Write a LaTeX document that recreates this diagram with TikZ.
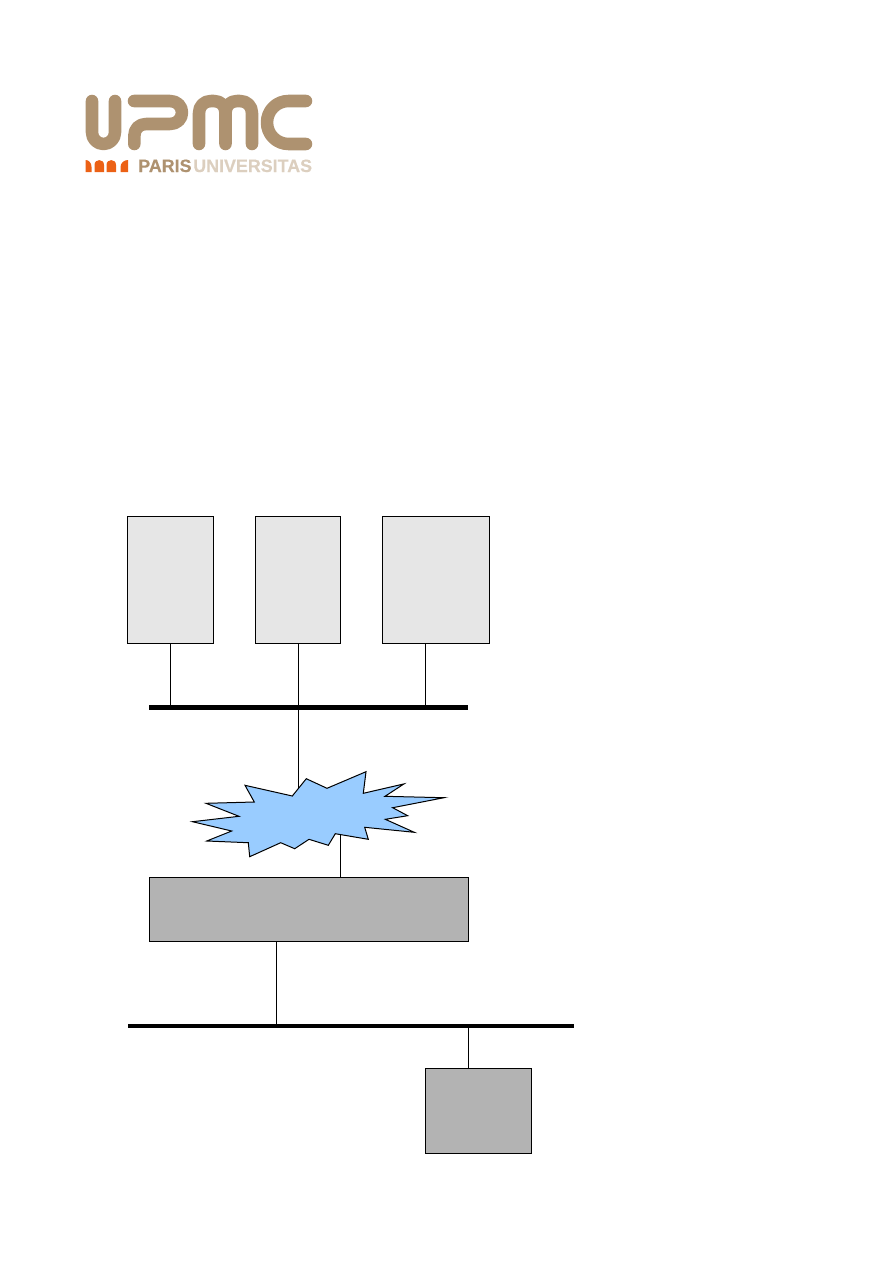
\documentclass[tikz,border=0pt]{standalone}
\usepackage{fontspec}
\setmainfont[BoldFeatures={FakeBold=0.4}]{Liberation Sans}
\definecolor{logobrown}{HTML}{AE9270}
\definecolor{logolight}{HTML}{DCCFBF}
\definecolor{logoorange}{HTML}{EC6115}
\definecolor{lightbox}{HTML}{E6E6E6}
\definecolor{darkbox}{HTML}{B3B3B3}
\definecolor{cloudblue}{HTML}{99CCFF}
\tikzset{
  px/.style={x=0.75pt,y=-0.75pt},
  boxbase/.style={draw=black,line width=0.75pt,inner sep=0pt,outer sep=0pt,anchor=north west},
  lightnode/.style={boxbase,fill=lightbox},
  darknode/.style={boxbase,fill=darkbox},
  busbar/.style={fill=black,inner sep=0pt,outer sep=0pt,anchor=north west,minimum height=#1},
  wire/.style={draw=black,line width=0.75pt},
  logostroke/.style={draw=logobrown,line width=9.4pt,line cap=round,line join=round},
  logotext/.style={font=\fontsize{13.4pt}{14pt}\selectfont\bfseries,inner sep=0pt,anchor=base west}
}
\begin{document}
\begin{tikzpicture}[px]
\useasboundingbox (0,0) rectangle (893,1263);
% logo
\draw[logostroke] (92,101) -- (92,132.5) arc[start angle=180,end angle=360,x radius=11.5,y radius=-11.5] -- (115,101);
\draw[logostroke] (134.3,144) -- (134.3,136) .. controls (134.3,129) and (139,124) .. (146,124) -- (170,124) .. controls (177,124) and (182,119) .. (182,112.5) .. controls (182,106) and (177,101) .. (170,101) -- (134,101);
\draw[logostroke] (199,144) -- (199,113) .. controls (199,106) and (204,101) .. (211,101) -- (214,101) .. controls (221,101) and (225.5,106) .. (225.5,113) -- (225.5,144);
\draw[logostroke] (225.5,113) .. controls (225.5,106) and (230,101) .. (237,101) -- (240,101) .. controls (247,101) and (252,106) .. (252,113) -- (252,144);
\draw[logostroke] (306,101) -- (288.5,101) .. controls (276.6,101) and (267,110.6) .. (267,122.5) .. controls (267,134.4) and (276.6,144) .. (288.5,144) -- (306,144);
\fill[logoorange] (85.5,172) -- (85.5,160) .. controls (89,160) and (91.5,163) .. (91.5,167) -- (91.5,172) -- cycle;
\fill[logoorange] (94.5,172) -- (94.5,165) .. controls (94.5,158.5) and (104,158.5) .. (104,165) -- (104,172) -- cycle;
\fill[logoorange] (106.5,172) -- (106.5,165) .. controls (106.5,158.5) and (116,158.5) .. (116,165) -- (116,172) -- cycle;
\fill[logoorange] (128,172) -- (128,160) .. controls (124,160) and (120.5,163) .. (120.5,167) -- (120.5,172) -- cycle;
\node[logotext,text=logobrown] (paris) at (138,172) {PARIS};
\node[logotext,text=logolight] (univ) at (193,172) {UNIVERSITAS};
% buses and boxes
\node[lightnode,minimum width=64.8pt,minimum height=95.6pt] (box1) at (127.3,516.3) {};
\node[lightnode,minimum width=64pt,minimum height=95.6pt] (box2) at (255.3,516.3) {};
\node[lightnode,minimum width=80.2pt,minimum height=95.6pt] (box3) at (382.3,516.3) {};
\node[busbar=3.75pt,minimum width=239pt] (bus1) at (149,704.9) {};
\node[darknode,minimum width=239.5pt,minimum height=48pt] (router) at (149.3,877.3) {};
\node[busbar=3pt,minimum width=334.5pt] (bus2) at (128,1024) {};
\node[darknode,minimum width=79.5pt,minimum height=63.9pt] (host) at (425.3,1068.3) {};
% free connector ends
\coordinate (tap3) at (425.3,707);
\coordinate (cloudtop) at (298.4,789);
\coordinate (cloudbottom) at (340.3,834);
\coordinate (tap4) at (276.3,1026);
\coordinate (tap5) at (468.3,1026);
% connectors
\draw[wire] (box1.south) -- (box1.south |- bus1.north);
\draw[wire] (box2.south -| cloudtop) -- (cloudtop);
\draw[wire] (box3.south -| tap3) -- (tap3);
\draw[wire] (cloudbottom) -- (router.north -| cloudbottom);
\draw[wire] (router.south -| tap4) -- (tap4);
\draw[wire] (tap5) -- (host.north -| tap5);
% cloud
\draw[fill=cloudblue,draw=black,line width=0.75pt,line join=miter]
 (192.5,821.7) -- (231.7,831) -- (206.7,841) -- (248.3,842.7) -- (249.7,856.7) -- (280.7,842.7) -- (294.7,848.7) -- (309,839.3) -- (328.3,845.3) -- (335.3,833.7) -- (368.3,839.3) -- (364.7,827.3) -- (414.3,832.3) -- (385.3,819.3) -- (407.7,815.7) -- (392.7,807.7) -- (444,797.7) -- (385,796.3) -- (404,783.9) -- (363.3,793.3) -- (366,771.7) -- (327,788.3) -- (306.3,778.7) -- (292.3,796) -- (245,785.3) -- (254.3,802) -- (206,803.3) -- (239,816.3) -- cycle;
\end{tikzpicture}
\end{document}
